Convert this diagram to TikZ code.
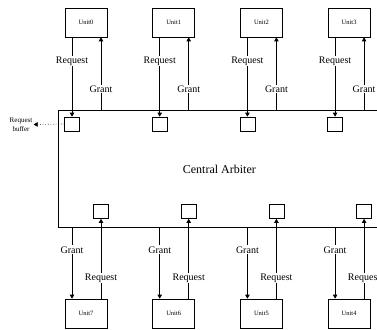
\documentclass[tikz,border=0pt]{standalone}
\usepackage{fontspec}
\setmainfont{Liberation Serif}
\usetikzlibrary{arrows.meta}
\begin{document}
\begin{tikzpicture}[x=1pt,y=-1pt,
  line width=0.7pt,
  unitbox/.style={draw, minimum width=42pt, minimum height=29pt, inner sep=0pt,
    font=\fontsize{6.5}{7}\selectfont},
  bufbox/.style={draw, minimum width=15pt, minimum height=14pt, inner sep=0pt},
  arr/.style={-{Triangle[length=4pt,width=4.5pt]}},
  lbl/.style={fill=white, inner sep=1pt, font=\fontsize{10}{12}\selectfont},
]
\useasboundingbox (0,0) rectangle (377,329);
\clip (0,0) rectangle (377,329);

% central arbiter block (its right side runs off the page)
\node[draw, line width=0.8pt, anchor=north west, minimum width=322pt, minimum height=117pt,
  inner sep=0pt, font=\fontsize{12}{14}\selectfont] (arb) at (58,110) {Central Arbiter};

% four columns: units above and below, one request buffer each
\foreach \i/\cx/\j in {0/86/7, 1/173.7/6, 2/261.4/5, 3/349.1/4} {
  % upper unit and its buffer
  \node[unitbox] (u\i) at (\cx,22.5) {Unit\i};
  \node[bufbox] (b\i) at (\cx-14,124) {};
  \coordinate (g\i) at (\cx+15,0);
  \draw[arr] (u\i.south -| b\i) -- node[lbl, pos=0.3] {Request} (b\i.north);
  \draw[arr] (arb.north -| g\i) -- node[lbl, pos=0.29] {Grant} (u\i.south -| g\i);
  % lower unit and its buffer
  \node[unitbox] (u\j) at (\cx,313.5) {Unit\j};
  \node[bufbox] (b\j) at (\cx+15,211.5) {};
  \coordinate (h\j) at (\cx-14,0);
  \draw[arr] (arb.south -| h\j) -- node[lbl, pos=0.31] {Grant} (u\j.north -| h\j);
  \draw[arr] (u\j.north -| b\j) -- node[lbl, pos=0.26] {Request} (b\j.south);
}

% request buffer annotation
\node[align=center, inner sep=1pt, font=\fontsize{7}{8.5}\selectfont] (rb) at (21,124.5) {Request\\buffer};
\draw[dotted, line width=0.6pt, arr] (b0.west) -- (rb.east);
\end{tikzpicture}
\end{document}
